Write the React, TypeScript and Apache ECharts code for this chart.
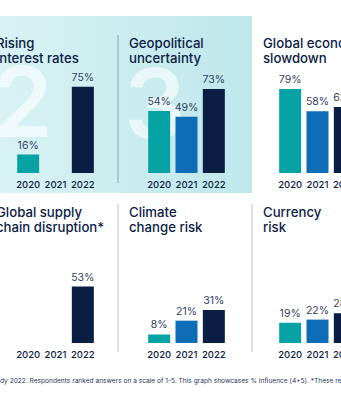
import React, { useEffect, useRef } from "react";
import * as echarts from "echarts";

const years = ["2020", "2021", "2022"];
const titles = [
  "Rising\ninterest rates",
  "Geopolitical\nuncertainty",
  "Global economic\nslowdown",
  "Global supply\nchain disruption*",
  "Climate\nchange risk",
  "Currency\nrisk",
];
const risingInterestRates = [16, null, 75];
const geopoliticalUncertainty = [54, 49, 73];
const globalEconomicSlowdown = [79, 58, 62];
const supplyChainDisruption = [null, null, 53];
const climateChangeRisk = [8, 21, 31];
const currencyRisk = [19, 22, 28];
const seriesValues = [
  risingInterestRates,
  geopoliticalUncertainty,
  globalEconomicSlowdown,
  supplyChainDisruption,
  climateChangeRisk,
  currencyRisk,
];
const yearColors = ["#07a3a4", "#0d6db7", "#0a1e44"];
const footnote =
  "dy 2022. Respondents ranked answers on a scale of 1-5. This graph showcases % Influence (4+5). *These responses were new in 2022.";

export default function App() {
  const ref = useRef<HTMLDivElement>(null);
  useEffect(() => {
    document.body.style.margin = "0";
    document.body.style.overflow = "hidden";
    const chart = echarts.init(ref.current!, null, { renderer: "svg" });
    const colX = [14.5, 145.5, 276.5];
    const titleX = [-4, 129, 263];
    const rowBottom = [173, 343];
    const yMax = [87, 87, 94, 94, 94, 94];
    const navy = "#0c2146";
    const font = "Inter, 'Noto Sans', sans-serif";

    const grids: any[] = [];
    const xAxes: any[] = [];
    const yAxes: any[] = [];
    const series: any[] = [];
    const titleOpts: any[] = [];
    seriesValues.forEach((vals, i) => {
      const col = i % 3;
      const row = Math.floor(i / 3);
      grids.push({
        left: colX[col],
        width: 82,
        top: rowBottom[row] - 100,
        height: 100,
        containLabel: false,
      });
      xAxes.push({
        type: "category",
        gridIndex: i,
        data: years,
        axisLine: { show: false },
        axisTick: { show: false },
        axisLabel: {
          color: navy,
          fontSize: 9.5,
          fontWeight: 500,
          fontFamily: font,
          margin: 6,
          interval: 0,
        },
      });
      yAxes.push({
        type: "value",
        gridIndex: i,
        min: 0,
        max: yMax[i],
        show: false,
        splitLine: { show: false },
      });
      series.push({
        type: "bar",
        xAxisIndex: i,
        yAxisIndex: i,
        barWidth: 22,
        data: vals.map((v, k) =>
          v == null ? "-" : { value: v, itemStyle: { color: yearColors[k] } }
        ),
        label: {
          show: true,
          position: "top",
          distance: 4,
          formatter: "{c}%",
          color: "#33415f",
          fontSize: 10.5,
          fontFamily: font,
        },
        z: 3,
      });
      titleOpts.push({
        text: titles[i],
        left: titleX[col],
        top: row === 0 ? 35 : 204,
        padding: 0,
        textStyle: {
          color: navy,
          fontSize: 13.2,
          fontWeight: 500,
          fontFamily: font,
          lineHeight: 15,
        },
      });
    });

    chart.setOption({
      animation: false,
      title: titleOpts,
      grid: grids,
      xAxis: xAxes,
      yAxis: yAxes,
      series,
      graphic: [
        {
          type: "rect",
          z: -10,
          shape: { x: 0, y: 16, width: 252, height: 177 },
          style: {
            fill: new echarts.graphic.LinearGradient(0, 0, 1, 0, [
              { offset: 0, color: "#d8f2f4" },
              { offset: 1, color: "#bfe7eb" },
            ]),
          },
        },
        {
          type: "text",
          z: -5,
          x: -8,
          y: 52,
          style: {
            text: "2",
            font: "600 98px Inter, sans-serif",
            fill: "rgba(255,255,255,0.6)",
          },
        },
        {
          type: "text",
          z: -5,
          x: 124,
          y: 54,
          style: {
            text: "3",
            font: "600 98px Inter, sans-serif",
            fill: "rgba(255,255,255,0.6)",
          },
        },
        {
          type: "line",
          z: -1,
          shape: { x1: 118, y1: 35, x2: 118, y2: 183 },
          style: { stroke: "#8f9fb0", lineWidth: 1 },
        },
        {
          type: "line",
          z: -1,
          shape: { x1: 118, y1: 204, x2: 118, y2: 352 },
          style: { stroke: "#b9c3cd", lineWidth: 1 },
        },
        {
          type: "line",
          z: -1,
          shape: { x1: 252, y1: 204, x2: 252, y2: 352 },
          style: { stroke: "#b9c3cd", lineWidth: 1 },
        },
        {
          type: "text",
          x: 0,
          y: 377,
          style: {
            text: footnote,
            font: "6.6px Inter, sans-serif",
            fill: "#1f3560",
          },
        },
      ],
    });
    return () => chart.dispose();
  }, []);
  return (
    <div style={{ width: 341, height: 400, overflow: "hidden" }}>
      <div ref={ref} style={{ width: 440, height: 400 }} />
    </div>
  );
}
